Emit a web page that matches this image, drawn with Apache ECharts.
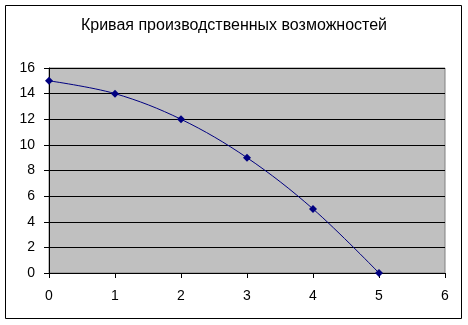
<!DOCTYPE html>
<html><head><meta charset="utf-8">
<script src="https://cdn.jsdelivr.net/npm/echarts@6/dist/echarts.min.js"></script>
<style>html,body{margin:0;padding:0;background:#fff}#c{width:468px;height:325px}</style>
</head><body><div id="c"></div>
<script>
const title = 'Кривая производственных возможностей';
const xValues = [0, 1, 2, 3, 4, 5];
const yValues = [15, 14, 12, 9, 5, 0];
const data = xValues.map((x, i) => [x, yValues[i]]);
const chart = echarts.init(document.getElementById('c'), null, {renderer: 'canvas'});
chart.setOption({
  animation: false,
  backgroundColor: '#fff',
  textStyle: {fontFamily: '"Liberation Sans", Arial, sans-serif'},
  title: {text: title, left: 'center', top: 13,
    textStyle: {fontSize: 16, fontWeight: 'normal', color: '#000', fontFamily: '"Liberation Sans", Arial, sans-serif'}},
  graphic: [{type: 'rect', shape: {x: 5.5, y: 5.5, width: 456, height: 313},
    style: {fill: 'none', stroke: '#000', lineWidth: 1}, z: 100}],
  grid: {left: 49, top: 68, width: 396, height: 205, show: true,
    backgroundColor: '#C0C0C0', borderColor: '#808080', borderWidth: 1},
  xAxis: {type: 'value', min: 0, max: 6, interval: 1,
    axisLine: {onZero: false, lineStyle: {color: '#000'}},
    axisTick: {show: true, length: 5, lineStyle: {color: '#000'}},
    axisLabel: {margin: 16, fontSize: 14, color: '#000'},
    splitLine: {show: false}},
  yAxis: {type: 'value', min: 0, max: 16, interval: 2,
    axisLine: {show: true, onZero: false, lineStyle: {color: '#000'}},
    axisTick: {show: true, length: 5, lineStyle: {color: '#000'}},
    axisLabel: {margin: 14, fontSize: 14, color: '#000'},
    splitLine: {show: true, lineStyle: {color: '#000', width: 1}}},
  series: [{type: 'line', data: data, smooth: 0.35,
    symbol: 'diamond', symbolSize: 8,
    lineStyle: {color: '#000080', width: 1},
    itemStyle: {color: '#000080'}}]
});
</script></body></html>
